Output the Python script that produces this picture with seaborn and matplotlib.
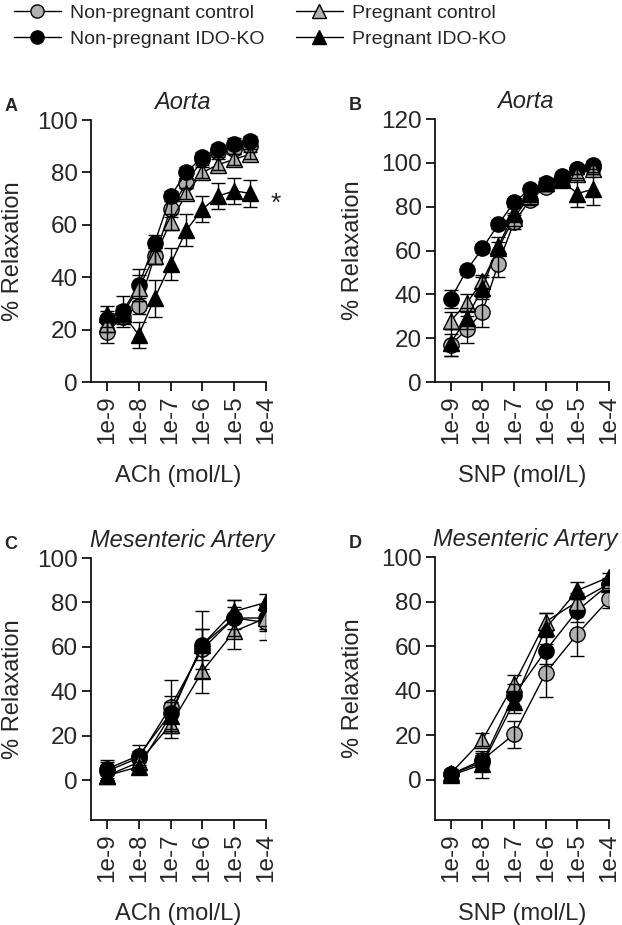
import numpy as np
import pandas as pd
import seaborn as sns
import matplotlib
matplotlib.use("Agg")
import matplotlib.pyplot as plt
from matplotlib.lines import Line2D

# log10 of the concentration
conc_half = [-9, -8.5, -8, -7.5, -7, -6.5, -6, -5.5, -5, -4.5]
conc_full = [-9, -8, -7, -6, -5, -4]
tick_pos = [-9, -8, -7, -6, -5, -4]
tick_labels = ["1e-9", "1e-8", "1e-7", "1e-6", "1e-5", "1e-4"]

series_names = ["Non-pregnant control", "Non-pregnant IDO-KO",
                "Pregnant control", "Pregnant IDO-KO"]

# A - aorta, ACh
a_npc = [19, 25, 29, 48, 66, 76, 85, 88, 89, 90]
a_npc_err = [4, 3, 3, 3, 3, 2, 2, 2, 2, 2]
a_npk = [24, 27, 37, 53, 71, 80, 86, 89, 91, 92]
a_npk_err = [3, 6, 6, 3, 2, 2, 2, 2, 2, 2]
a_pc = [22, 26, 36, 48, 61, 72, 80, 83, 85, 87]
a_pc_err = [3, 3, 5, 3, 3, 2, 2, 2, 2, 2]
a_pk = [26, 26, 18, 32, 45, 58, 66, 71, 73, 72]
a_pk_err = [3, 3, 5, 7, 6, 6, 5, 5, 5, 5]

# B - aorta, SNP
b_npc = [17, 24, 32, 54, 73, 83, 89, 93, 97, 98]
b_npc_err = [5, 6, 7, 6, 3, 2, 2, 2, 2, 2]
b_npk = [38, 51, 61, 72, 82, 88, 91, 94, 97, 99]
b_npk_err = [4, 2, 2, 2, 2, 2, 2, 2, 2, 2]
b_pc = [28, 36, 46, 61, 75, 85, 91, 93, 95, 97]
b_pc_err = [4, 4, 3, 3, 2, 2, 2, 2, 2, 2]
b_pk = [18, 29, 43, 62, 77, 86, 91, 92, 86, 88]
b_pk_err = [6, 5, 5, 4, 3, 2, 2, 2, 6, 7]

# C - mesenteric artery, ACh
c_npc = [4, 10, 33, 59, 73, 71]
c_npc_err = [4, 3, 12, 9, 5, 8]
c_npk = [5, 11, 30, 61, 73, 73]
c_npk_err = [4, 5, 8, 15, 8, 6]
c_pc = [2, 8, 25, 49, 67, 73]
c_pc_err = [3, 3, 6, 10, 8, 5]
c_pk = [2, 6, 29, 61, 76, 80]
c_pk_err = [2, 2, 6, 7, 5, 4]

# D - mesenteric artery, SNP
d_npc = [2.5, 9, 20.5, 48, 65.5, 81]
d_npc_err = [2, 3, 6, 11, 10, 4]
d_npk = [2.5, 8, 38, 58, 76, 87.7]
d_npk_err = [2, 3, 5, 6, 5, 3]
d_pc = [3, 18, 43, 71, 80, 88]
d_pc_err = [2, 3, 4, 4, 4, 2]
d_pk = [2, 7, 35, 68, 85, 91]
d_pk_err = [2, 6, 5, 7, 4, 2]

GREY = "#b0b0b0"
styles = [("o", GREY), ("o", "black"), ("^", GREY), ("^", "black")]

sns.set_style("ticks")
plt.rcParams["font.family"] = ["Liberation Sans", "DejaVu Sans"]

fig = plt.figure(figsize=(6.22, 9.25), dpi=100)

panels = [
    ("A", "Aorta", "ACh (mol/L)", conc_half,
     [(a_npc, a_npc_err), (a_npk, a_npk_err), (a_pc, a_pc_err), (a_pk, a_pk_err)],
     [0.1463, 0.587, 0.2814, 0.2832], (0, 100), [0, 20, 40, 60, 80, 100]),
    ("B", "Aorta", "SNP (mol/L)", conc_half,
     [(b_npc, b_npc_err), (b_npk, b_npk_err), (b_pc, b_pc_err), (b_pk, b_pk_err)],
     [0.6994, 0.587, 0.2797, 0.2843], (0, 120), [0, 20, 40, 60, 80, 100, 120]),
    ("C", "Mesenteric Artery", "ACh (mol/L)", conc_full,
     [(c_npc, c_npc_err), (c_npk, c_npk_err), (c_pc, c_pc_err), (c_pk, c_pk_err)],
     [0.1463, 0.1135, 0.2814, 0.2832], (-18, 100), [0, 20, 40, 60, 80, 100]),
    ("D", "Mesenteric Artery", "SNP (mol/L)", conc_full,
     [(d_npc, d_npc_err), (d_npk, d_npk_err), (d_pc, d_pc_err), (d_pk, d_pk_err)],
     [0.6994, 0.1135, 0.2797, 0.2843], (-18, 100), [0, 20, 40, 60, 80, 100]),
]

for letter, title, xlab, xs, data, rect, ylim, yticks in panels:
    ax = fig.add_axes(rect)
    for (vals, errs), (mk, fc) in zip(data, styles):
        sns.lineplot(x=xs, y=vals, ax=ax, color="black", linewidth=1,
                     marker=mk, markersize=11, markerfacecolor=fc,
                     markeredgecolor="black", markeredgewidth=1,
                     errorbar=None, zorder=2)
        ax.errorbar(xs, vals, yerr=errs, fmt="none", ecolor="black",
                    elinewidth=1, capsize=5, capthick=1, zorder=3)
    ax.set_xlim(-9.5, -4)
    ax.set_ylim(*ylim)
    ax.set_xticks(tick_pos)
    ax.set_xticklabels(tick_labels, rotation=90)
    ax.set_yticks(yticks)
    ax.tick_params(labelsize=17.5, length=6.5, width=1.2, pad=3,
                   direction="out", color="black")
    for s in ["left", "bottom"]:
        ax.spines[s].set_linewidth(1.2)
        ax.spines[s].set_color("black")
    sns.despine(ax=ax)
    ax.set_xlabel(xlab, fontsize=17)
    ax.set_ylabel("% Relaxation", fontsize=17)
    ax.xaxis.set_label_coords(0.5, -0.317)
    ax.yaxis.set_label_coords(-0.38 if letter in "AC" else -0.41, 0.5)
    ax.set_title(title, fontsize=17, style="italic", pad=8, x=0.52)
    fig.text(rect[0] - 0.139, rect[1] + rect[3] + 0.005, letter,
             fontsize=13, fontweight="bold", ha="left", va="bottom")
    if letter == "A":
        ax.text(-3.7, 68, "*", fontsize=19, ha="center", va="center", clip_on=False)

handles = [Line2D([0], [0], color="black", linewidth=1, marker=mk,
                  markersize=9.5, markerfacecolor=fc, markeredgecolor="black")
           for mk, fc in styles]
fig.legend(handles, series_names, ncol=2, loc="upper left",
           bbox_to_anchor=(0.0225, 0.995), frameon=False, fontsize=14,
           handlelength=2.4, handletextpad=0.5, columnspacing=1.6,
           labelspacing=0.4, borderpad=0, borderaxespad=0)

fig.savefig("out.png", dpi=100)
